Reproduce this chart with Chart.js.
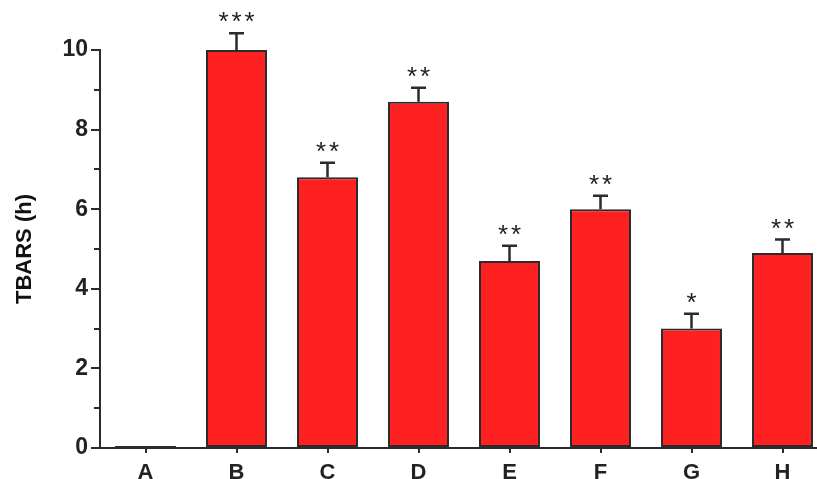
<!DOCTYPE html>
<html>
<head>
<meta charset="utf-8">
<script src="https://cdn.jsdelivr.net/npm/chart.js@4"></script>
<style>
  html, body { margin: 0; padding: 0; background: #fff; overflow: hidden; }
  #wrap { width: 828px; height: 479px; position: relative; }
</style>
</head>
<body>
<div id="wrap"><canvas id="c"></canvas></div>
<script>
// Groups, mean TBARS values, SEM and significance marks
const groups = ['A', 'B', 'C', 'D', 'E', 'F', 'G', 'H'];
const tbars = [0.05, 10.0, 6.8, 8.7, 4.7, 6.0, 3.0, 4.9];
const sem = [0, 0.42, 0.37, 0.35, 0.38, 0.34, 0.37, 0.34];
const stars = ['', '***', '**', '**', '**', '**', '*', '**'];
const yTicks = [0, 2, 4, 6, 8, 10];

const INK = '#2b2b2b';
const FONT = '"Liberation Sans", Arial, Helvetica, sans-serif';

// Upward error bars with caps, plus significance asterisks above them
const errorBars = {
  id: 'errorBars',
  afterDatasetsDraw(chart) {
    const ctx = chart.ctx;
    const y = chart.scales.y;
    const meta = chart.getDatasetMeta(0);
    ctx.save();
    meta.data.forEach((bar, i) => {
      const top = y.getPixelForValue(tbars[i] + sem[i]);
      if (sem[i] > 0) {
        ctx.strokeStyle = INK;
        ctx.lineWidth = 2.5;
        ctx.beginPath();
        ctx.moveTo(bar.x, bar.y);
        ctx.lineTo(bar.x, top);
        ctx.moveTo(bar.x - 7.5, top);
        ctx.lineTo(bar.x + 7.5, top);
        ctx.stroke();
      }
      const s = stars[i];
      if (s) {
        ctx.fillStyle = '#222';
        ctx.font = '26px ' + FONT;
        ctx.textAlign = 'center';
        ctx.textBaseline = 'middle';
        const gap = 13;
        for (let k = 0; k < s.length; k++) {
          const cx = bar.x + (k - (s.length - 1) / 2) * gap;
          ctx.fillText('*', cx, top - 10);
        }
      }
    });
    ctx.restore();
  }
};

// Short minor ticks at the odd values of the y axis
const minorTicks = {
  id: 'minorTicks',
  afterDraw(chart) {
    const ctx = chart.ctx;
    const y = chart.scales.y;
    const left = chart.chartArea.left;
    ctx.save();
    ctx.strokeStyle = INK;
    ctx.lineWidth = 2;
    for (let v = 1; v < 10; v += 2) {
      const py = Math.round(y.getPixelForValue(v));
      ctx.beginPath();
      ctx.moveTo(left - 6, py);
      ctx.lineTo(left, py);
      ctx.stroke();
    }
    ctx.restore();
  }
};

new Chart(document.getElementById('c'), {
  type: 'bar',
  data: {
    labels: groups,
    datasets: [{
      data: tbars,
      backgroundColor: '#fe2121',
      borderColor: INK,
      borderWidth: 2,
      borderSkipped: false,
      categoryPercentage: 1,
      barPercentage: 0.67
    }]
  },
  options: {
    responsive: true,
    maintainAspectRatio: false,
    animation: false,
    devicePixelRatio: 1,
    layout: { padding: { top: 50, right: 0, bottom: 0, left: 0 } },
    plugins: { legend: { display: false }, tooltip: { enabled: false } },
    scales: {
      x: {
        grid: {
          offset: false,
          drawOnChartArea: false,
          drawTicks: true,
          tickLength: 5,
          color: INK,
          lineWidth: 2
        },
        border: { display: true, color: INK, width: 2 },
        ticks: {
          color: '#222',
          padding: 7,
          font: { family: FONT, size: 22, weight: 'bold' }
        },
        afterFit(scale) { scale.height = 31; }
      },
      y: {
        min: 0,
        max: 10,
        afterBuildTicks(scale) {
          scale.ticks = yTicks.map(v => ({ value: v }));
        },
        grid: {
          drawOnChartArea: false,
          drawTicks: true,
          tickLength: 9,
          color: INK,
          lineWidth: 2
        },
        border: { display: true, color: INK, width: 2 },
        ticks: {
          color: '#222',
          padding: 3,
          font: { family: FONT, size: 23, weight: 'bold' }
        },
        title: {
          display: true,
          text: 'TBARS (h)',
          color: '#111',
          padding: { top: 12, bottom: 0 },
          font: { family: FONT, size: 22, weight: 'bold' }
        },
        afterFit(scale) { scale.width = 100; }
      }
    }
  },
  plugins: [errorBars, minorTicks]
});
</script>
</body>
</html>
